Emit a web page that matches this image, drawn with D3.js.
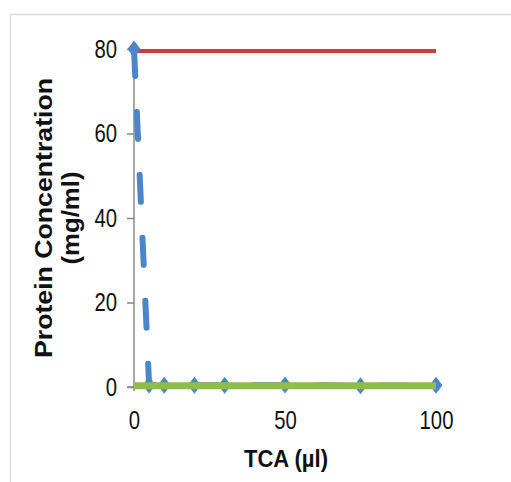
<!DOCTYPE html>
<html><head><meta charset="utf-8">
<script src="https://cdn.jsdelivr.net/npm/d3@7"></script>
<style>body{margin:0;background:#fff}svg{display:block}</style>
</head><body>
<svg id="c" width="511" height="482"></svg>
<script>
const tcaX = [0, 5, 10, 20, 30, 50, 75, 100];
const blueValues = [80, 0.5, 0.4, 0.4, 0.4, 0.5, 0.3, 0.4];
const redX = [1, 100];
const redValues = [79.5, 79.5];
const greenX = [0, 100];
const greenValues = [0.3, 0.3];
const xTicks = [0, 50, 100];
const yTicks = [0, 20, 40, 60, 80];

const FONT = "'Liberation Sans', Arial, sans-serif";
const svg = d3.select("#c");
const x = d3.scaleLinear().domain([0, 100]).range([134, 436]);
const y = d3.scaleLinear().domain([0, 80]).range([387, 49]);

// frame
svg.append("path").attr("d", "M10.5,482 L10.5,14.5 L511,14.5").attr("fill", "none").attr("stroke", "#dcdcdc").attr("stroke-width", 1.5);

// axes
const ya = svg.append("g").attr("transform", "translate(134,0)")
  .call(d3.axisLeft(y).tickValues(yTicks).tickSize(7).tickPadding(10));
const xa = svg.append("g").attr("transform", "translate(0,387)")
  .call(d3.axisBottom(x).tickValues(xTicks).tickSize(0).tickPadding(24));
[ya, xa].forEach(g => {
  g.select(".domain").attr("stroke", "#888").attr("stroke-width", 1.5);
  g.selectAll(".tick line").attr("stroke", "#888").attr("stroke-width", 1.5);
  g.selectAll("text").attr("font-family", FONT).attr("font-size", 25).attr("fill", "#111")
    .attr("textLength", function () { return this.textContent.length * 11.3; })
    .attr("lengthAdjust", "spacingAndGlyphs");
});
ya.select(".domain").attr("d", "M0,49V391");
xa.select(".domain").attr("d", "M127,0H134");

const line = d3.line();
// red
svg.append("path").datum(redX.map((d, i) => [x(d), y(redValues[i])]))
  .attr("d", line).attr("fill", "none").attr("stroke", "#c8403a").attr("stroke-width", 4);
// blue dashed
const bpts = tcaX.map((d, i) => [x(d), y(blueValues[i])]);
svg.append("path").datum(bpts).attr("d", line).attr("fill", "none")
  .attr("stroke", "#4a86c8").attr("stroke-width", 6).attr("stroke-dasharray", "27,36").attr("stroke-linecap", "round");
svg.selectAll(".mk").data(bpts).enter().append("path")
  .attr("transform", d => `translate(${d[0]},${d[1]})`)
  .attr("d", "M0,-8.5L6.5,0L0,8.5L-6.5,0Z")
  .attr("fill", "#4a86c8");
// green
svg.append("path").datum(greenX.map((d, i) => [x(d), y(greenValues[i])]))
  .attr("d", line).attr("fill", "none").attr("stroke", "#8fbc4e").attr("stroke-width", 7);

// titles
svg.append("text").attr("x", 286).attr("y", 467).attr("text-anchor", "middle")
  .attr("font-family", FONT).attr("font-weight", "bold").attr("font-size", 23).attr("fill", "#111")
  .attr("textLength", 84).attr("lengthAdjust", "spacingAndGlyphs")
  .text("TCA (µl)");
const yt = svg.append("text").attr("transform", "translate(52,218) rotate(-90)").attr("text-anchor", "middle")
  .attr("font-family", FONT).attr("font-weight", "bold").attr("font-size", 23).attr("fill", "#111");
yt.append("tspan").attr("x", 0).attr("y", 0).attr("textLength", 280).attr("lengthAdjust", "spacingAndGlyphs").text("Protein Concentration");
yt.append("tspan").attr("x", 0).attr("y", 27).attr("textLength", 93).attr("lengthAdjust", "spacingAndGlyphs").text("(mg/ml)");
</script>
</body></html>
